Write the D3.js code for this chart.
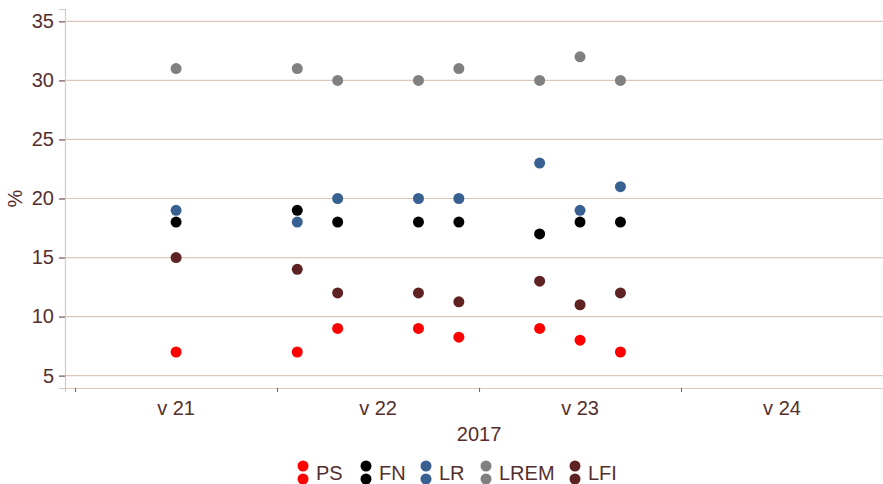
<!DOCTYPE html>
<html>
<head>
<meta charset="utf-8">
<script src="https://cdn.jsdelivr.net/npm/d3@7"></script>
<style>
  body { margin: 0; background: #fff; }
  text { font-family: "Liberation Sans", Arial, sans-serif; fill: #552e2e; }
</style>
</head>
<body>
<div id="chartDiv"></div>
<script>
// poll dates, in week units (one working day = 0.2)
const pollWeeks = [21.0, 21.6, 21.8, 22.2, 22.4, 22.8, 23.0, 23.2];

const parties = ["PS", "FN", "LR", "LREM", "LFI"];
const partyColors = ["#ff0000", "#000000", "#386192", "#808080", "#5e2222"];

const psVals   = [7, 7, 9, 9, 8.25, 9, 8, 7];
const fnVals   = [18, 19, 18, 18, 18, 17, 18, 18];
const lrVals   = [19, 18, 20, 20, 20, 23, 19, 21];
const lremVals = [31, 31, 30, 30, 31, 30, 32, 30];
const lfiVals  = [15, 14, 12, 12, 11.25, 13, 11, 12];

const weekTicks = [21, 22, 23, 24];
const weekTickLabels = ["v 21", "v 22", "v 23", "v 24"];
const yTicks = [5, 10, 15, 20, 25, 30, 35];

const seriesVals = [psVals, fnVals, lrVals, lremVals, lfiVals];

const W = 883, H = 484;
const m = { t: 9, r: 0, b: 96, l: 65 };
const gridCol = "#dcc8bb";
const fs = "20px";

const svg = d3.select("#chartDiv").append("svg")
  .attr("width", W).attr("height", H);

const x = d3.scaleLinear().domain([20.45, 24.5]).range([m.l, W - m.r]);
const y = d3.scaleLinear().domain([3.95, 36.05]).range([H - m.b, m.t]);

// horizontal grid
svg.append("g").selectAll("line")
  .data(yTicks).join("line")
  .attr("x1", m.l).attr("x2", W - m.r)
  .attr("y1", d => y(d)).attr("y2", d => y(d))
  .attr("stroke", gridCol).attr("stroke-width", 1.2);

// y axis
const yAxis = svg.append("g")
  .attr("transform", `translate(${m.l},0)`)
  .call(d3.axisLeft(y).tickValues(yTicks).tickSize(6).tickPadding(5));
yAxis.select(".domain").attr("stroke", gridCol).attr("stroke-width", 1.2);
yAxis.selectAll(".tick line").attr("stroke", "#552e2e");
yAxis.selectAll(".tick text").style("font-size", fs).attr("fill", "#552e2e");

// x axis: minor ticks at week boundaries, labels mid-week
const xAxis = svg.append("g")
  .attr("transform", `translate(0,${H - m.b})`)
  .call(d3.axisBottom(x).tickValues(weekTicks.map(d => d - 0.5)).tickSize(4).tickFormat(""));
xAxis.select(".domain").attr("stroke", gridCol).attr("stroke-width", 1.2);
xAxis.selectAll(".tick line").attr("stroke", "#552e2e").attr("stroke-width", 0.8);

svg.append("g").selectAll("text")
  .data(weekTicks).join("text")
  .attr("x", d => x(d))
  .attr("y", H - m.b + 27)
  .attr("text-anchor", "middle")
  .style("font-size", fs)
  .text((d, i) => weekTickLabels[i]);

// axis titles
svg.append("text")
  .attr("x", x(22.5)).attr("y", 441)
  .attr("text-anchor", "middle").style("font-size", fs)
  .text("2017");

svg.append("text")
  .attr("transform", `translate(22,${y(20)}) rotate(-90)`)
  .attr("text-anchor", "middle").style("font-size", fs)
  .text("%");

// points
const pts = [];
seriesVals.forEach((vals, si) => {
  vals.forEach((v, i) => pts.push({ party: parties[si], c: partyColors[si], wk: pollWeeks[i], v }));
});

svg.append("g").selectAll("circle")
  .data(pts).join("circle")
  .attr("cx", d => x(d.wk))
  .attr("cy", d => y(d.v))
  .attr("r", 5.5)
  .attr("fill", d => d.c);

// legend
const legendX = [303, 366, 426, 486, 575];
const lg = svg.append("g").selectAll("g")
  .data(parties).join("g")
  .attr("transform", (d, i) => `translate(${legendX[i]},0)`);
lg.append("circle").attr("cx", 0).attr("cy", 466).attr("r", 5.5).attr("fill", (d, i) => partyColors[i]);
lg.append("circle").attr("cx", 0).attr("cy", 479).attr("r", 5.5).attr("fill", (d, i) => partyColors[i]);
lg.append("text")
  .attr("x", 13).attr("y", 480)
  .style("font-size", fs)
  .text(d => d);
</script>
</body>
</html>
